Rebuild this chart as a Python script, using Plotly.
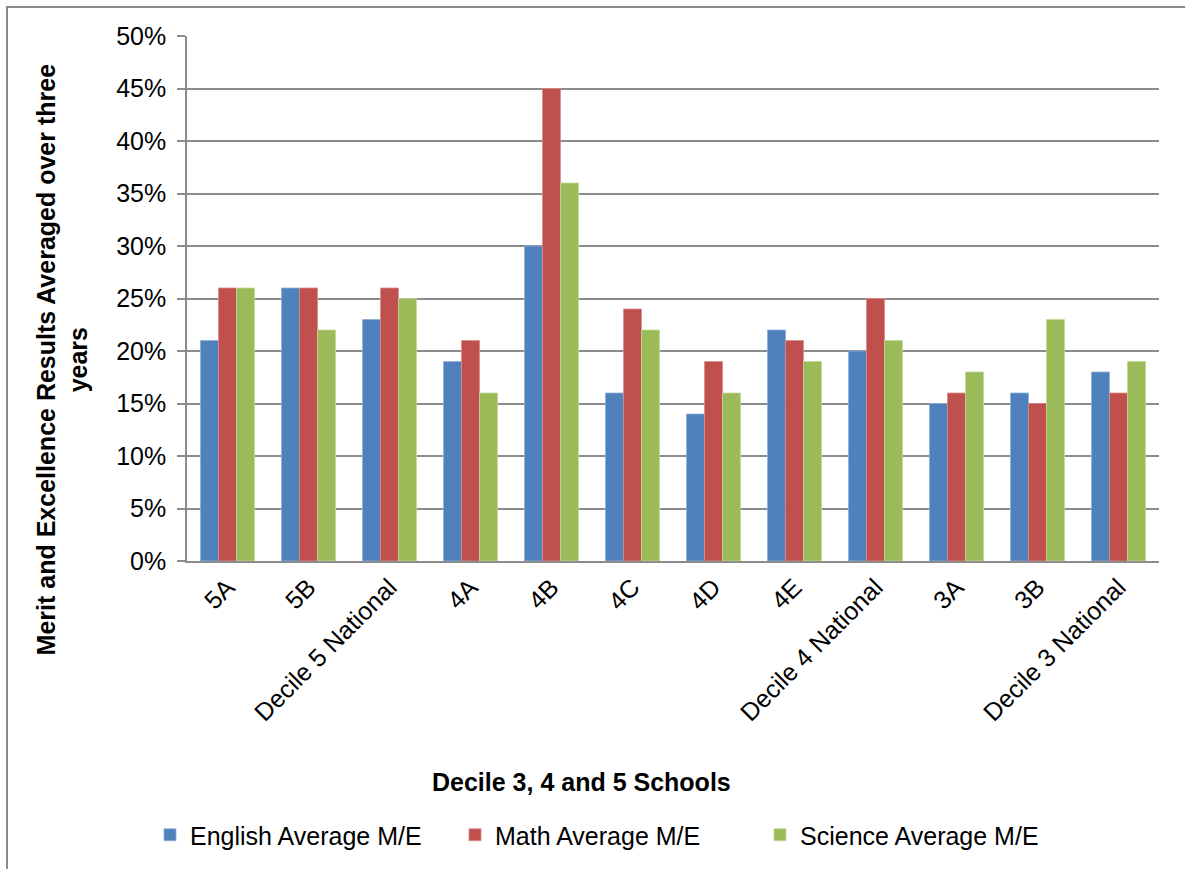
import plotly.graph_objects as go

schools = ["5A", "5B", "Decile 5 National", "4A", "4B", "4C", "4D", "4E",
           "Decile 4 National", "3A", "3B", "Decile 3 National"]
english = [21, 26, 23, 19, 30, 16, 14, 22, 20, 15, 16, 18]
math = [26, 26, 26, 21, 45, 24, 19, 21, 25, 16, 15, 16]
science = [26, 22, 25, 16, 36, 22, 16, 19, 21, 18, 23, 19]

tick_vals = [0, 5, 10, 15, 20, 25, 30, 35, 40, 45, 50]
tick_text = [f"{v}%" for v in tick_vals]

FONT = "Liberation Sans, Arial, sans-serif"
GRID = "#8c8c8c"
FS = 25

fig = go.Figure()
for name, vals, color, edge in [
    ("English Average M/E", english, "#4f81bd", "#8fb0d8"),
    ("Math Average M/E", math, "#c0504d", "#d98c8a"),
    ("Science Average M/E", science, "#9bbb59", "#c3d89a"),
]:
    fig.add_trace(go.Bar(name=name, x=schools, y=vals, marker_color=color,
                         marker_line=dict(color=edge, width=0.8)))

W, H = 1185, 869
L, R, T, B = 187, 26, 36, 307
pw, ph = W - L - R, H - T - B


def px(x):
    return (x - L) / pw


def py(y):
    return (H - B - y) / ph


fig.update_layout(
    width=W, height=H,
    margin=dict(l=L, r=R, t=T, b=B),
    paper_bgcolor="white", plot_bgcolor="white",
    barmode="group", bargap=0.333, bargroupgap=0,
    font=dict(family=FONT, size=FS, color="#000000"),
    showlegend=True,
    legend=dict(orientation="h", x=px(150), y=py(835), xanchor="left", yanchor="middle",
                font=dict(size=FS), entrywidth=260, entrywidthmode="pixels",
                itemclick=False, traceorder="normal"),
    xaxis=dict(tickangle=-45, showgrid=False, showline=True, linecolor=GRID, linewidth=1.5,
               ticks="", tickfont=dict(size=FS)),
    yaxis=dict(range=[0, 50], tickvals=tick_vals, ticktext=tick_text,
               showgrid=True, gridcolor=GRID, gridwidth=1.5,
               showline=True, linecolor=GRID, linewidth=1.5,
               ticks="outside", ticklen=8, tickcolor=GRID, tickwidth=1.5,
               ticklabelstandoff=6,
               zeroline=False, tickfont=dict(size=FS)),
    annotations=[
        dict(text="<b>Merit and Excellence Results Averaged over three<br>years</b>",
             xref="paper", yref="paper", x=px(62), y=py(360), textangle=-90,
             showarrow=False, font=dict(size=FS), xanchor="center", yanchor="middle"),
        dict(text="<b>Decile 3, 4 and 5 Schools</b>", xref="paper", yref="paper",
             x=px(581), y=py(783), showarrow=False, font=dict(size=FS),
             xanchor="center", yanchor="middle"),
    ],
    shapes=[
        dict(type="rect", xref="paper", yref="paper",
             x0=px(7), x1=px(1230), y0=py(920), y1=py(7),
             line=dict(color="#8a8a8a", width=2), layer="below"),
    ],
)

fig.write_html("out.html")
